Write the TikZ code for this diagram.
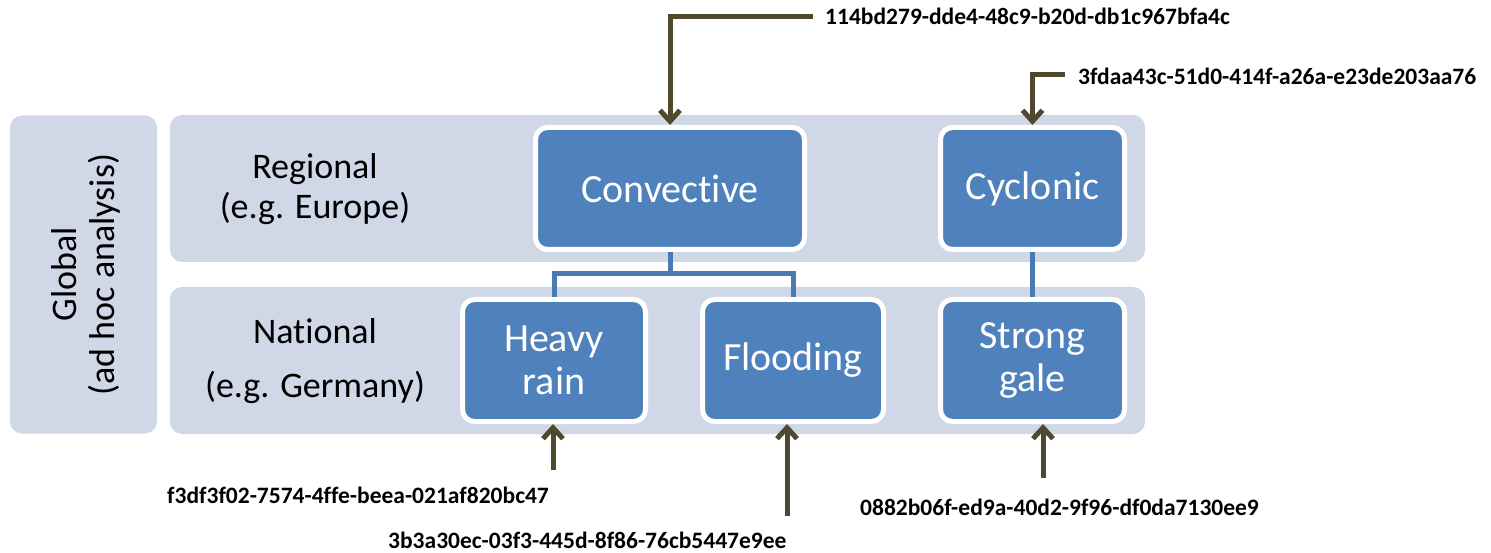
\documentclass[tikz,border=0pt]{standalone}
\usepackage{fontspec}
\setmainfont{Carlito}[Ligatures=NoCommon]
\usetikzlibrary{arrows.meta}
\definecolor{bandcol}{RGB}{208,216,232}
\definecolor{boxblue}{RGB}{79,129,189}
\definecolor{conncol}{RGB}{74,122,180}
\definecolor{arrowcol}{RGB}{79,73,45}
\begin{document}
\begin{tikzpicture}[x=1pt,y=-1pt,
  bandbox/.style={fill=bandcol, rounded corners=12pt, inner sep=0pt},
  bandtext/.style={align=center, text=black, inner sep=0pt, font=\fontsize{36}{40}\selectfont},
  catbox/.style={draw=white, line width=5pt, fill=boxblue, rounded corners=12pt,
    text=white, align=center, inner sep=0pt, minimum height=122pt,
    font=\fontsize{40}{43}\selectfont},
  link/.style={draw=conncol, line width=5pt},
  feed/.style={draw=arrowcol, line width=5pt, -{Straight Barb[length=11pt,width=20pt]}},
  idlabel/.style={inner sep=0pt, font=\bfseries\fontsize{23.5}{26}\selectfont}
]
\useasboundingbox (0,0) rectangle (1491,553);

% background bands
\node[bandbox, minimum width=147pt, minimum height=318pt] (global) at (83.5,274.5) {};
\node[bandbox, minimum width=975pt, minimum height=147pt] (regional) at (657.5,188.5) {};
\node[bandbox, minimum width=975pt, minimum height=147pt] (national) at (657.5,360.5) {};

\node[bandtext, rotate=90, font=\fontsize{36}{38}\selectfont] (globaltxt) at (86,274.5) {Global\\(ad hoc analysis)};
\node[bandtext] (regtxt) at (315,189) {Regional\\(e.g. Europe)};
\node[bandtext] (nattxt) at (315,361) {National\\[14pt](e.g. Germany)};

% category boxes
\node[catbox, minimum width=269pt] (conv) at (670,188.5) {Convective};
\node[catbox, minimum width=184pt] (cyc) at (1032.5,188.5) {Cyclonic};
\node[catbox, minimum width=183pt] (heavy) at (554,360.5) {Heavy\\rain};
\node[catbox, minimum width=181pt] (flood) at (793,360.5) {Flooding};
\node[catbox, minimum width=184pt] (gale) at (1032.5,360.5) {Strong\\gale};

% hierarchy connectors
\draw[link] (conv.south) -- ++(0,22) coordinate (j);
\draw[link] (heavy.north) |- (j) -| (flood.north);
\draw[link] (cyc.south) -- (gale.north);

% id labels
\node[idlabel, anchor=base west] (lab1) at (825,25) {114bd279-dde4-48c9-b20d-db1c967bfa4c};
\node[idlabel, anchor=base west] (lab2) at (1078,85) {3fdaa43c-51d0-414f-a26a-e23de203aa76};
\node[idlabel, anchor=base west] (lab3) at (167,503) {f3df3f02-7574-4ffe-beea-021af820bc47};
\node[idlabel, anchor=base west] (lab4) at (388,548) {3b3a30ec-03f3-445d-8f86-76cb5447e9ee};
\node[idlabel, anchor=base west] (lab5) at (860,515) {0882b06f-ed9a-40d2-9f96-df0da7130ee9};

% feed arrows
\coordinate (t1) at (813,17);
\coordinate (t2) at (1065,75);
\coordinate (t3) at (553,470);
\coordinate (t4) at (787,516);
\coordinate (t5) at (1043,478);
\draw[feed] (t1) -| (conv.north);
\draw[feed] (t2) -| (cyc.north);
\draw[feed] (t3) -- (t3 |- heavy.south);
\draw[feed] (t4) -- (t4 |- flood.south);
\draw[feed] (t5) -- (t5 |- gale.south);
\end{tikzpicture}
\end{document}
